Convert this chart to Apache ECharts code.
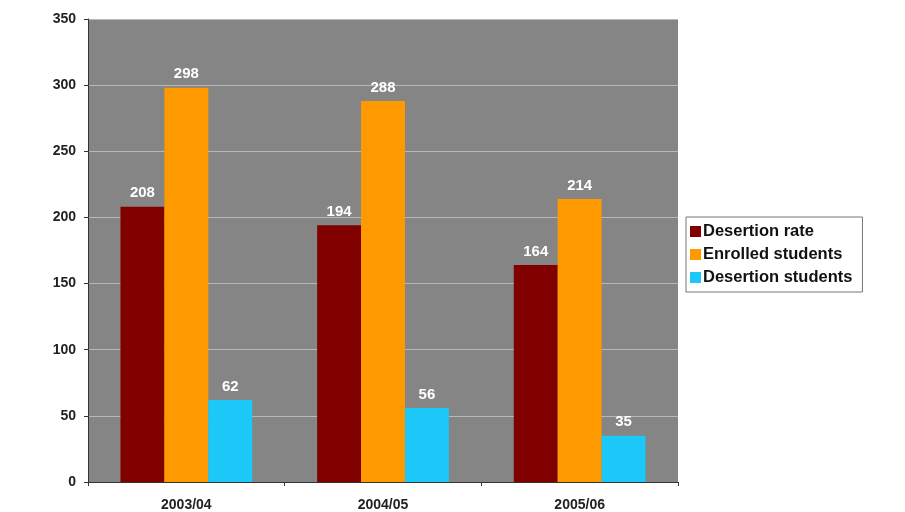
<!DOCTYPE html>
<html>
<head>
<meta charset="utf-8">
<script src="https://cdn.jsdelivr.net/npm/echarts@6/dist/echarts.min.js"></script>
<style>
  html, body { margin: 0; padding: 0; background: #fff; }
  #chart { width: 905px; height: 512px; }
</style>
</head>
<body>
<div id="chart"></div>
<script>
// categories and series values
const years = ['2003/04', '2004/05', '2005/06']
const desertionRate = [208, 194, 164]
const enrolledStudents = [298, 288, 214]
const desertionStudents = [62, 56, 35]
const yTicks = { min: 0, max: 350, interval: 50 }

const font = '"Liberation Sans", Arial, sans-serif'

const barLabel = {
  show: true,
  position: 'top',
  distance: 6,
  color: '#ffffff',
  fontFamily: font,
  fontWeight: 'bold',
  fontSize: 15
}

function bar(name, color, data) {
  return {
    name: name,
    type: 'bar',
    barGap: '0%',
    barCategoryGap: '33%',
    itemStyle: { color: color },
    label: barLabel,
    data: data
  }
}

echarts.init(document.getElementById('chart')).setOption({
  animation: false,
  grid: {
    left: 88,
    right: 227,
    top: 19,
    bottom: 29,
    show: true,
    backgroundColor: '#858585',
    borderWidth: 0
  },
  legend: {
    orient: 'vertical',
    left: 686,
    top: 217,
    padding: [6, 10, 6, 4],
    itemGap: 6,
    itemWidth: 11,
    itemHeight: 11,
    icon: 'rect',
    backgroundColor: '#ffffff',
    borderColor: '#777777',
    borderWidth: 1,
    textStyle: {
      fontFamily: font,
      fontWeight: 'bold',
      fontSize: 16.5,
      color: '#111111',
      padding: [0, 0, 0, -3]
    },
    data: ['Desertion rate', 'Enrolled students', 'Desertion students']
  },
  xAxis: {
    type: 'category',
    data: years,
    axisLine: { lineStyle: { color: '#333333', width: 1 } },
    axisTick: { show: true, length: 4, lineStyle: { color: '#333333' } },
    axisLabel: {
      margin: 16,
      color: '#222222',
      fontFamily: font,
      fontWeight: 'bold',
      fontSize: 14
    }
  },
  yAxis: {
    type: 'value',
    min: yTicks.min,
    max: yTicks.max,
    interval: yTicks.interval,
    axisLine: { show: true, lineStyle: { color: '#333333', width: 1 } },
    axisTick: { show: true, length: 4, lineStyle: { color: '#333333' } },
    axisLabel: {
      margin: 12,
      color: '#222222',
      fontFamily: font,
      fontWeight: 'bold',
      fontSize: 14
    },
    splitLine: { lineStyle: { color: '#b8b8b8', width: 1 } }
  },
  series: [
    bar('Desertion rate', '#800000', desertionRate),
    bar('Enrolled students', '#ff9900', enrolledStudents),
    bar('Desertion students', '#1cc8f8', desertionStudents)
  ]
})
</script>
</body>
</html>
